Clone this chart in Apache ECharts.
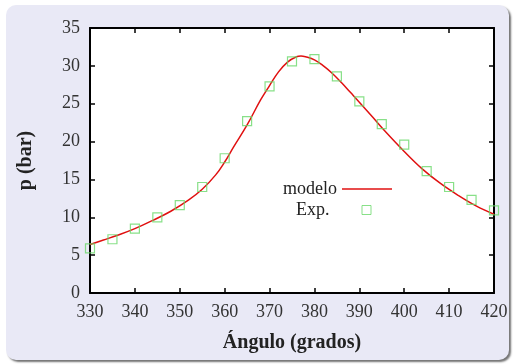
<!DOCTYPE html>
<html>
<head>
<meta charset="utf-8">
<script src="https://cdn.jsdelivr.net/npm/echarts@6/dist/echarts.min.js"></script>
<style>
  html, body { margin: 0; padding: 0; background: #fff; }
  #chart { width: 514px; height: 364px; }
</style>
</head>
<body>
<div id="chart"></div>
<script>
// datos experimentales
const expAngles = [330, 335, 340, 345, 350, 355, 360, 365, 370, 375, 380, 385, 390, 395, 400, 405, 410, 415, 420];
const expP = [5.9, 7.1, 8.5, 10.0, 11.6, 14.0, 17.8, 22.7, 27.3, 30.6, 30.9, 28.6, 25.3, 22.3, 19.6, 16.1, 14.0, 12.3, 10.9];

// curva del modelo
const modelAngles = [330, 333, 336, 340, 344, 348, 352, 355, 358, 360, 362, 365, 368, 370, 372, 374, 376, 377, 378, 380, 382, 384, 386, 388, 390, 393, 396, 400, 404, 408, 412, 416, 420];
const modelP = [6.4, 7.0, 7.6, 8.5, 9.6, 10.8, 12.3, 13.7, 15.6, 17.3, 19.3, 22.2, 25.5, 27.4, 29.2, 30.5, 31.2, 31.3, 31.2, 30.8, 30.0, 29.0, 27.8, 26.5, 25.2, 23.2, 21.2, 18.7, 16.4, 14.5, 12.9, 11.5, 10.4];

const xTicks = { min: 330, max: 420, interval: 10 };
const yTicks = { min: 0, max: 35, interval: 5 };

const font = 'Liberation Serif';

const chart = echarts.init(document.getElementById('chart'));

const tickStyle = { show: true, inside: true, length: 5, lineStyle: { color: '#000', width: 1.5 } };
const frameLine = { show: true, onZero: false, lineStyle: { color: '#000', width: 2 } };
const legendText = { fontFamily: font, fontSize: 18, color: '#222', lineHeight: 20 };

chart.setOption({
  animation: false,
  graphic: [{
    type: 'rect',
    z: -10,
    shape: { x: 6, y: 5, width: 503, height: 355, r: 10 },
    style: {
      fill: '#e9e9f6',
      shadowBlur: 2,
      shadowOffsetX: 2,
      shadowOffsetY: 2,
      shadowColor: 'rgba(0,0,0,0.55)'
    }
  }],
  grid: {
    left: 90, top: 28, right: 20, bottom: 71,
    show: true, backgroundColor: '#fff', borderWidth: 0
  },
  legend: [
    {
      data: [{ name: 'modelo', icon: 'path://M0,0 h50 v1.5 h-50 Z' }],
      right: 122, top: 179, padding: 0,
      align: 'right', itemWidth: 50, itemHeight: 10,
      textStyle: legendText
    },
    {
      // cuadro vacio dentro de una caja mas ancha
      data: [{ name: 'Exp.', icon: 'path://M0,0 M57,10 M27.5,0.5 h9 v9 h-9 Z' }],
      right: 122, top: 200, padding: 0,
      align: 'right', itemWidth: 57, itemHeight: 10,
      itemStyle: { borderWidth: 1 },
      textStyle: legendText
    }
  ],
  xAxis: [
    {
      type: 'value', position: 'bottom', ...xTicks,
      axisLine: frameLine, axisTick: tickStyle, splitLine: { show: false },
      axisLabel: { fontFamily: font, fontSize: 18, color: '#333', margin: 10 },
      name: 'Ángulo (grados)', nameLocation: 'middle', nameGap: 40,
      nameTextStyle: { fontFamily: font, fontSize: 20, fontWeight: 'bold', color: '#222' }
    },
    {
      type: 'value', position: 'top', ...xTicks,
      axisLine: frameLine, axisTick: tickStyle, splitLine: { show: false },
      axisLabel: { show: false }
    }
  ],
  yAxis: [
    {
      type: 'value', position: 'left', ...yTicks,
      axisLine: frameLine, axisTick: tickStyle, splitLine: { show: false },
      axisLabel: { fontFamily: font, fontSize: 18, color: '#333', margin: 10 },
      name: 'p (bar)', nameLocation: 'middle', nameGap: 54, nameRotate: 90,
      nameTextStyle: { fontFamily: font, fontSize: 20, fontWeight: 'bold', color: '#222' }
    },
    {
      type: 'value', position: 'right', ...yTicks,
      axisLine: frameLine, axisTick: tickStyle, splitLine: { show: false },
      axisLabel: { show: false }
    }
  ],
  series: [
    {
      name: 'modelo',
      type: 'line',
      data: modelAngles.map((a, i) => [a, modelP[i]]),
      smooth: 0.4,
      symbol: 'none',
      lineStyle: { color: '#e01010', width: 1.5 },
      itemStyle: { color: '#e01010' },
      z: 3
    },
    {
      name: 'Exp.',
      type: 'scatter',
      data: expAngles.map((a, i) => [a, expP[i]]),
      symbol: 'rect',
      symbolSize: 9,
      itemStyle: { color: 'rgba(255,255,255,0)', borderColor: '#6ad86a', borderWidth: 1.2 },
      z: 4
    }
  ]
});
</script>
</body>
</html>
